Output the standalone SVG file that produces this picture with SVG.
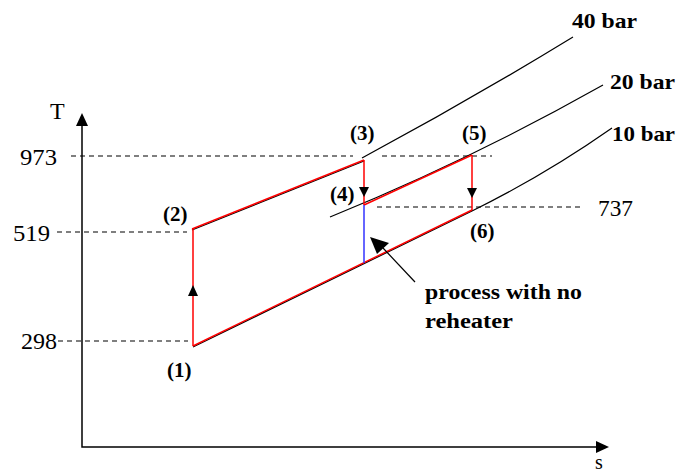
<svg xmlns="http://www.w3.org/2000/svg" width="688" height="474" viewBox="0 0 688 474">
<style>
.t{font-family:"Liberation Serif","Times New Roman",serif;font-size:24px;fill:#000}
.p{font-family:"Liberation Serif","Times New Roman",serif;font-size:21px;font-weight:bold;fill:#000}
.b{font-family:"Liberation Serif","Times New Roman",serif;font-size:20px;font-weight:bold;fill:#000}
.dash{stroke:#000;stroke-width:1.2;stroke-dasharray:5,4;fill:none}
.iso{stroke:#000;stroke-width:1.2;fill:none}
.red{stroke:#f00;stroke-width:1.5;fill:none}
.ax{stroke:#000;stroke-width:1.5;fill:none}
</style>
<rect width="688" height="474" fill="#fff"/>
<g id="axes">
<path class="ax" d="M82,124 V447 H598"/>
<polygon points="82,113 76,126 88,126"/>
<polygon points="609,447 596,441 596,453"/>
<text class="t" x="50" y="119">T</text>
<text class="t" x="595" y="469" style="font-size:20px">s</text>
</g>
<g id="levels">
<path class="dash" d="M71,156 H353 M382,156 H492"/>
<path class="dash" d="M57,232 H187"/>
<path class="dash" d="M58,341 H188"/>
<path class="dash" d="M377,207 H583"/>
<text class="t" x="20" y="165" textLength="37" lengthAdjust="spacingAndGlyphs">973</text>
<text class="t" x="13" y="241" textLength="37" lengthAdjust="spacingAndGlyphs">519</text>
<text class="t" x="21" y="349" textLength="36" lengthAdjust="spacingAndGlyphs">298</text>
<text class="t" x="598" y="216" textLength="35" lengthAdjust="spacingAndGlyphs">737</text>
</g>
<g id="isobars">
<path class="iso" d="M362,158 Q470,100 573,37"/>
<path class="iso" d="M330,217 Q470,160 603,85"/>
<path class="iso" d="M193,347 L472,211 Q545,175 612,128"/>
<path class="iso" d="M192,230 L364,161"/>
<text class="p" x="572" y="28" textLength="65" lengthAdjust="spacingAndGlyphs">40 bar</text>
<text class="p" x="610" y="89" textLength="65" lengthAdjust="spacingAndGlyphs">20 bar</text>
<text class="p" x="612" y="141" textLength="63" lengthAdjust="spacingAndGlyphs">10 bar</text>
</g>
<g id="connectors">
<path class="red" d="M193,229 V346"/>
<path class="red" d="M193,346 L472,210"/>
<path class="red" d="M192,229 L364,160"/>
<path class="red" d="M364,160 V205"/>
<path class="red" d="M364,205 L472,155"/>
<path class="red" d="M472,155 V210"/>
<path d="M364,205 V263" stroke="#33f" stroke-width="1.5" fill="none"/>
<polygon points="193,285 188,296 198,296"/>
<polygon points="364,197 359,187 369,187"/>
<polygon points="472,198 467,188 477,188"/>
<path d="M383,248 L415,282" stroke="#000" stroke-width="1.2"/>
<polygon points="370,237 389,243 377,254"/>
</g>
<g id="p1"><text class="p" x="167" y="377">(1)</text></g>
<g id="p2"><text class="p" x="163" y="221">(2)</text></g>
<g id="p3"><text class="p" x="350" y="140">(3)</text></g>
<g id="p4"><text class="p" x="330" y="201">(4)</text></g>
<g id="p5"><text class="p" x="462" y="140">(5)</text></g>
<g id="p6"><text class="p" x="470" y="238">(6)</text></g>
<g id="note">
<text class="b" x="425" y="299" textLength="157" lengthAdjust="spacingAndGlyphs">process with no</text>
<text class="b" x="425" y="328" textLength="88" lengthAdjust="spacingAndGlyphs">reheater</text>
</g>
</svg>
